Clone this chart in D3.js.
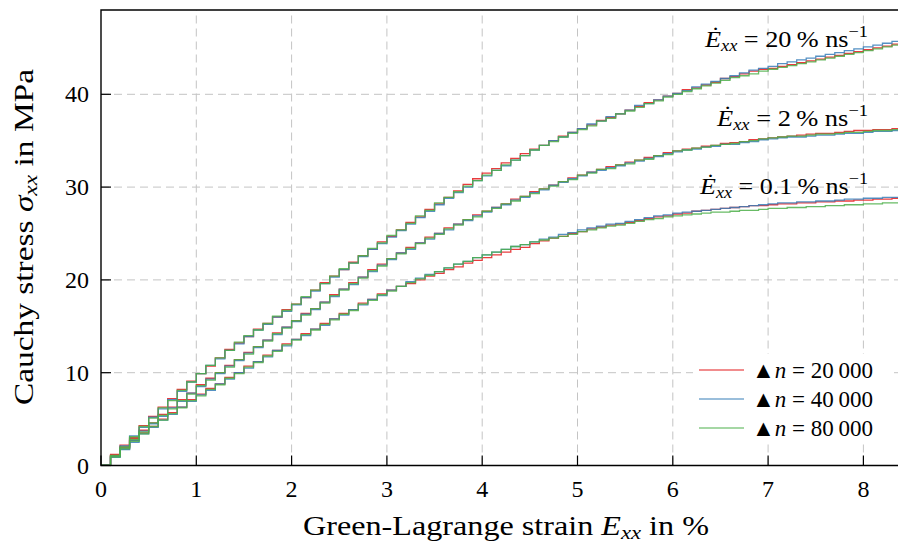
<!DOCTYPE html>
<html><head><meta charset="utf-8">
<script src="https://cdn.jsdelivr.net/npm/d3@7"></script>
<style>
body{margin:0;background:#fff}
text{font-family:"Liberation Serif","Times New Roman",serif;fill:#000}
</style>
</head><body>
<svg id="c" width="901" height="544"></svg>
<script>
// strain sampling: each value holds from strainStep*i to strainStep*(i+1)
const strainStep = 0.1;
const xTicks = [0,1,2,3,4,5,6,7,8];
const yTicks = [0,10,20,30,40];
const rateLabels = ["20", "2", "0.1"];
const nLabels = ["20\u2009000", "40\u2009000", "80\u2009000"];
const nColors = ["#e41a1c", "#377eb8", "#4daf4a"];

// rate 20 %/ns
const top_n20 = [0,1.2,2.2,3.0,4.3,5.3,6.3,7.2,8.2,9.1, 9.9,10.7,11.6,12.5,13.2,13.9,14.7,15.3,16.0,16.8, 17.4,18.1,18.9,19.7,20.4,21.1,21.9,22.6,23.3,24.1, 24.7,25.4,26.2,26.8,27.6,28.2,28.9,29.6,30.3,30.9, 31.5,32.0,32.6,33.1,33.6,34.1,34.5,35.0,35.5,35.9, 36.3,36.7,37.2,37.5,37.9,38.3,38.7,39.1,39.4,39.8, 40.1,40.5,40.7,41.0,41.3,41.7,41.9,42.2,42.5,42.7, 42.8,43.0,43.2,43.4,43.6,43.8,44.0,44.2,44.4,44.6, 44.8,45.0,45.2,45.4];
const top_n40 = [0,1.0,2.1,3.2,4.1,5.2,6.1,7.1,8.0,9.0, 9.9,10.8,11.5,12.4,13.1,13.9,14.6,15.2,16.0,16.6, 17.3,18.1,18.8,19.6,20.3,21.1,21.8,22.5,23.3,23.9, 24.6,25.3,26.0,26.7,27.4,28.1,28.8,29.4,30.0,30.7, 31.2,31.8,32.3,32.9,33.4,34.0,34.5,35.0,35.4,35.9, 36.3,36.8,37.1,37.6,37.9,38.3,38.8,39.0,39.4,39.8, 40.1,40.4,40.8,41.1,41.4,41.7,42.0,42.3,42.6,42.8, 43.0,43.3,43.5,43.7,43.9,44.1,44.3,44.5,44.7,44.9, 45.1,45.3,45.5,45.7];
const top_n80 = [0,1.1,2.0,3.1,4.2,5.1,6.2,7.0,8.1,9.0, 9.9,10.8,11.6,12.4,13.3,14.0,14.6,15.3,16.1,16.7, 17.4,18.2,18.9,19.6,20.4,21.2,21.8,22.6,23.4,24.0, 24.8,25.4,26.1,26.9,27.5,28.3,28.9,29.5,30.1,30.7, 31.3,31.8,32.4,32.9,33.4,34.0,34.5,34.9,35.4,35.8, 36.2,36.6,37.1,37.4,37.9,38.2,38.6,39.0,39.3,39.7, 40.0,40.3,40.6,40.9,41.2,41.5,41.8,42.0,42.2,42.5, 42.7,42.9,43.1,43.3,43.5,43.7,43.9,44.1,44.3,44.5, 44.7,44.9,45.1,45.3];
// rate 2 %/ns
const mid_n20 = [0,1.1,2.0,2.9,3.8,4.6,5.5,6.3,7.1,7.8, 8.7,9.4,10.0,10.8,11.4,12.2,12.8,13.5,14.3,14.9, 15.6,16.4,16.9,17.6,18.4,19.0,19.7,20.3,21.1,21.7, 22.3,22.9,23.5,24.0,24.6,25.0,25.6,26.0,26.5,27.0, 27.4,27.8,28.2,28.7,29.0,29.5,29.8,30.2,30.6,31.0, 31.3,31.6,31.9,32.2,32.4,32.7,32.9,33.2,33.4,33.7, 33.9,34.1,34.2,34.4,34.5,34.7,34.8,34.9,35.1,35.2, 35.3,35.4,35.5,35.6,35.7,35.8,35.8,35.9,36.0,36.1, 36.1,36.2,36.2,36.3];
const mid_n40 = [0,0.9,1.8,2.7,3.7,4.5,5.3,6.2,6.9,7.8, 8.5,9.3,9.9,10.7,11.3,12.1,12.7,13.5,14.1,14.9, 15.5,16.3,16.8,17.6,18.2,19.0,19.5,20.3,20.9,21.6, 22.2,22.9,23.3,24.0,24.4,25.0,25.4,26.0,26.4,26.9, 27.3,27.8,28.1,28.6,28.9,29.4,29.7,30.2,30.5,30.9, 31.2,31.6,31.8,32.1,32.3,32.6,32.8,33.1,33.3,33.6, 33.8,34.0,34.1,34.3,34.4,34.6,34.6,34.8,34.9,35.1, 35.2,35.3,35.4,35.4,35.5,35.6,35.6,35.7,35.8,35.8, 35.9,36.0,36.0,36.1];
const mid_n80 = [0,1.0,1.9,2.8,3.6,4.6,5.4,6.1,7.0,7.7, 8.6,9.2,10.0,10.6,11.4,12.0,12.8,13.4,14.2,14.8, 15.6,16.2,16.9,17.5,18.3,18.9,19.6,20.2,21.0,21.5, 22.3,22.8,23.4,23.9,24.5,24.9,25.5,25.9,26.5,26.8, 27.4,27.7,28.2,28.5,29.0,29.3,29.8,30.1,30.6,30.8, 31.3,31.5,31.9,32.0,32.4,32.5,32.9,33.0,33.4,33.5, 33.9,34.0,34.2,34.3,34.5,34.6,34.7,34.9,35.0,35.2, 35.3,35.4,35.5,35.5,35.6,35.7,35.7,35.8,35.9,35.9, 36.0,36.1,36.1,36.2];
// rate 0.1 %/ns
const low_n20 = [0,1.0,1.9,2.7,3.5,4.2,5.0,5.7,6.3,7.1, 7.7,8.3,8.8,9.5,10.0,10.7,11.2,11.9,12.4,13.1, 13.6,14.2,14.7,15.3,15.8,16.4,16.8,17.5,17.9,18.5, 18.9,19.3,19.6,20.0,20.4,20.7,21.1,21.4,21.8,22.1, 22.4,22.7,23.0,23.3,23.5,23.9,24.2,24.5,24.7,25.0, 25.2,25.5,25.7,25.9,26.0,26.2,26.4,26.6,26.8,26.9, 27.1,27.2,27.4,27.5,27.6,27.7,27.8,27.9,28.0,28.0, 28.1,28.2,28.2,28.3,28.3,28.4,28.4,28.5,28.5,28.6, 28.6,28.7,28.7,28.8];
const low_n40 = [0,0.9,1.7,2.5,3.4,4.1,4.9,5.5,6.3,6.9, 7.6,8.1,8.8,9.3,10.0,10.5,11.2,11.7,12.4,12.9, 13.6,14.0,14.7,15.1,15.8,16.2,16.8,17.3,17.9,18.3, 18.9,19.3,19.8,20.2,20.6,20.9,21.3,21.7,22.0,22.4, 22.7,23.0,23.3,23.6,23.8,24.1,24.4,24.6,24.9,25.1, 25.4,25.6,25.8,26.0,26.1,26.3,26.5,26.7,26.9,27.0, 27.2,27.3,27.4,27.5,27.6,27.7,27.8,27.9,28.0,28.1, 28.2,28.3,28.3,28.4,28.4,28.5,28.5,28.6,28.7,28.7, 28.8,28.8,28.9,28.9];
const low_n80 = [0,0.9,1.8,2.6,3.4,4.2,4.9,5.6,6.2,7.0, 7.5,8.2,8.7,9.4,9.9,10.6,11.1,11.8,12.3,13.0, 13.5,14.1,14.6,15.2,15.7,16.3,16.7,17.4,17.8,18.4, 18.8,19.3,19.7,20.1,20.5,20.9,21.3,21.7,22.0,22.4, 22.7,23.0,23.3,23.6,23.8,24.1,24.3,24.5,24.7,24.9, 25.2,25.4,25.6,25.8,25.9,26.1,26.3,26.5,26.6,26.8, 26.9,27.0,27.1,27.2,27.3,27.3,27.4,27.5,27.5,27.6, 27.7,27.7,27.8,27.8,27.9,27.9,28.0,28.0,28.1,28.1, 28.2,28.2,28.3,28.3];

const seriesByN = [
  [top_n20, mid_n20, low_n20],
  [top_n40, mid_n40, low_n40],
  [top_n80, mid_n80, low_n80]
];

const svg = d3.select("#c");
const L = 101, R = 898, T = 10, B = 465.5;
const x = d3.scaleLinear().domain([0, 8.37]).range([L, L + 8.37*95.3]);
const y = d3.scaleLinear().domain([0, 10]).range([B, B - 92.8]);

// grid
const g = svg.append("g");
g.selectAll(".vg").data(xTicks.filter(d=>d>0)).enter().append("line")
  .attr("x1", d=>x(d)).attr("x2", d=>x(d)).attr("y1", B).attr("y2", T)
  .attr("stroke", "#c4c4c4").attr("stroke-width", 1).attr("stroke-dasharray", "8,5");
g.selectAll(".hg").data(yTicks.filter(d=>d>0)).enter().append("line")
  .attr("x1", L).attr("x2", R).attr("y1", d=>y(d)).attr("y2", d=>y(d))
  .attr("stroke", "#c4c4c4").attr("stroke-width", 1).attr("stroke-dasharray", "8,5");

// clip
svg.append("clipPath").attr("id","clip").append("rect")
  .attr("x", L).attr("y", T).attr("width", R-L).attr("height", B-T);

const line = d3.line().x(d=>x(d[0])).y(d=>y(d[1])).curve(d3.curveStepAfter);
const curves = svg.append("g").attr("clip-path","url(#clip)");
seriesByN.forEach((group, k) => {
  group.forEach(vals => {
    const pts = vals.map((v,i)=>[i*strainStep, v]);
    pts.push([vals.length*strainStep, vals[vals.length-1]]);
    curves.append("path").attr("d", line(pts)).attr("fill","none")
      .attr("stroke", nColors[k]).attr("stroke-width", 1.3).attr("stroke-opacity", 0.85);
  });
});

// axes frame
const ax = svg.append("g");
ax.append("path").attr("d", `M${R},${T}H${L}V${B}H${R}`).attr("fill","none")
  .attr("stroke","#000").attr("stroke-width",1.4);
ax.selectAll(".xt").data(xTicks).enter().append("line")
  .attr("x1", d=>x(d)).attr("x2", d=>x(d)).attr("y1", B).attr("y2", B-10)
  .attr("stroke","#000").attr("stroke-width",1.2);
ax.selectAll(".yt").data(yTicks).enter().append("line")
  .attr("x1", L).attr("x2", L+10).attr("y1", d=>y(d)).attr("y2", d=>y(d))
  .attr("stroke","#000").attr("stroke-width",1.2);
ax.selectAll(".xl").data(xTicks).enter().append("text")
  .attr("x", d=>x(d)).attr("y", 497).attr("text-anchor","middle")
  .attr("font-size", 24).text(d=>d);
ax.selectAll(".yl").data(yTicks).enter().append("text")
  .attr("x", 89).attr("y", d=>y(d)+8).attr("text-anchor","end")
  .attr("font-size", 24).text(d=>d);

// axis labels
const xl = svg.append("text").attr("x", 506).attr("y", 535).attr("text-anchor","middle")
  .attr("font-size", 27).attr("textLength", 406).attr("lengthAdjust","spacingAndGlyphs");
xl.append("tspan").text("Green-Lagrange strain ");
xl.append("tspan").attr("font-style","italic").text("E");
xl.append("tspan").attr("font-style","italic").attr("font-size",19).attr("dy",4).text("xx");
xl.append("tspan").attr("dy",-4).text(" in %");

const yl = svg.append("text").attr("transform","translate(33,237) rotate(-90)")
  .attr("text-anchor","middle").attr("font-size", 27)
  .attr("textLength", 336).attr("lengthAdjust","spacingAndGlyphs");
yl.append("tspan").text("Cauchy stress ");
yl.append("tspan").attr("font-style","italic").text("\u03c3");
yl.append("tspan").attr("font-style","italic").attr("font-size",19).attr("dy",4).text("xx");
yl.append("tspan").attr("dy",-4).text(" in MPa");

// rate annotations
const annY = [47, 126, 194];
const annW = [163, 151, 168];
rateLabels.forEach((r, i) => {
  const t = svg.append("text").attr("x", 868).attr("y", annY[i]).attr("text-anchor","end")
    .attr("font-size", 23).attr("textLength", annW[i]).attr("lengthAdjust","spacingAndGlyphs");
  t.append("tspan").attr("font-style","italic").text("\u0116");
  t.append("tspan").attr("font-style","italic").attr("font-size",16).attr("dy",4).text("xx");
  t.append("tspan").attr("dy",-4).text(" = " + r + "\u2009% ns");
  t.append("tspan").attr("font-size",16).attr("dy",-10).text("\u22121");
});

// legend
const leg = svg.append("g");
leg.append("rect").attr("x", 693).attr("y", 354).attr("width", 200).attr("height", 90).attr("fill","#fff");
nLabels.forEach((lab, i) => {
  const yy = 370 + i*29;
  leg.append("line").attr("x1", 699).attr("x2", 744).attr("y1", yy).attr("y2", yy)
    .attr("stroke", nColors[i]).attr("stroke-width", 1.2);
  const t = leg.append("text").attr("x", 752).attr("y", yy+7.5).attr("font-size", 23)
    .attr("textLength", 121).attr("lengthAdjust","spacingAndGlyphs");
  t.append("tspan").text("\u25b2");
  t.append("tspan").attr("font-style","italic").text("n");
  t.append("tspan").text(" = " + lab);
});
</script>
</body></html>
